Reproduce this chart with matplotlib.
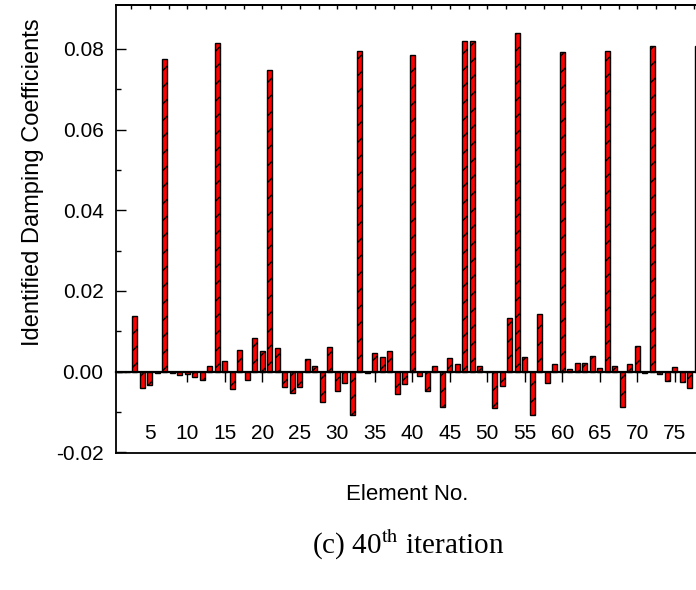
import matplotlib.pyplot as plt
import numpy as np

plt.rcParams["font.family"] = ["Liberation Sans", "DejaVu Sans"]
plt.rcParams["hatch.linewidth"] = 1.0

# identified damping coefficient of each element after 40 iterations
elements = np.arange(1, 79)
damping = [
    0.0, 0.0, 0.0137, -0.0040, -0.0033, -0.0004, 0.0776, -0.0003, -0.0009, -0.0006,
    -0.0013, -0.0022, 0.0013, 0.0815, 0.0025, -0.0044, 0.0054, -0.0020, 0.0082, 0.0052,
    0.0748, 0.0058, -0.0039, -0.0053, -0.0039, 0.0031, 0.0014, -0.0075, 0.0061, -0.0048,
    -0.0029, -0.0107, 0.0794, -0.0004, 0.0045, 0.0035, 0.0051, -0.0055, -0.0031, 0.0785,
    -0.0010, -0.0049, 0.0014, -0.0089, 0.0034, 0.0019, 0.0819, 0.0820, 0.0014, 0.0,
    -0.0091, -0.0036, 0.0133, 0.0840, 0.0037, -0.0108, 0.0142, -0.0029, 0.0018, 0.0792,
    0.0007, 0.0021, 0.0022, 0.0039, 0.0009, 0.0794, 0.0013, -0.0088, 0.0018, 0.0063,
    -0.0003, 0.0808, -0.0006, -0.0023, 0.0011, -0.0026, -0.0041, 0.0808,
]
x_ticks = np.arange(5, 80, 5)
y_ticks = [-0.02, 0.0, 0.02, 0.04, 0.06, 0.08]

fig = plt.figure(figsize=(6.96, 5.9), dpi=100)
# axes run past the right edge of the figure
ax = fig.add_axes([116 / 696, 1 - 453 / 590, 600 / 696, 448 / 590])

ax.bar(elements, damping, width=0.65, color="red", edgecolor="black",
       linewidth=1.0, hatch="//", zorder=2)

ax.set_xlim(0.5, 80.5)
ax.set_ylim(-0.0202, 0.0909)

# x axis sits on the zero line, frame line drawn separately at the bottom
ax.spines["bottom"].set_position(("data", 0))
ax.spines["bottom"].set_linewidth(1.6)
ax.spines["bottom"].set_zorder(3)
ax.spines["left"].set_linewidth(1.3)
ax.spines["top"].set_linewidth(1.3)
ax.spines["right"].set_visible(False)
ax.plot([0, 1], [0, 0], transform=ax.transAxes, color="black", lw=1.3,
        clip_on=False, zorder=3)

ax.set_xticks(x_ticks)
ax.set_xticklabels([str(t) for t in x_ticks])
ax.tick_params(axis="x", direction="out", length=7.5, width=1.0, pad=30,
               labelsize=15, bottom=True, top=False)

ax.set_yticks(y_ticks)
ax.set_yticklabels(["%.2f" % v for v in y_ticks])
ax.set_yticks(np.arange(-0.01, 0.09, 0.02), minor=True)
ax.tick_params(axis="y", which="major", direction="in", length=7, width=1.0,
               pad=9, labelsize=15)
ax.tick_params(axis="y", which="minor", direction="in", length=3.5, width=1.0)

top = ax.secondary_xaxis("top")
top.set_xticks(np.arange(2.5, 80, 2.5))
top.tick_params(direction="in", length=3, width=1.0, labeltop=False)
top.spines["top"].set_linewidth(1.3)

fig.text(33 / 696, 1 - 182 / 590, "Identified Damping Coefficients",
         rotation=90, ha="center", va="center", fontsize=17)
fig.text(407 / 696, 1 - 495 / 590, "Element No.", ha="center", va="center",
         fontsize=16)
fig.text(408 / 696, 1 - 545 / 590, r"(c) 40$^{\rm th}$ iteration", ha="center",
         va="center", fontsize=21, family=["Liberation Serif"],
         math_fontfamily="stix")

fig.savefig("out.png", dpi=100)
